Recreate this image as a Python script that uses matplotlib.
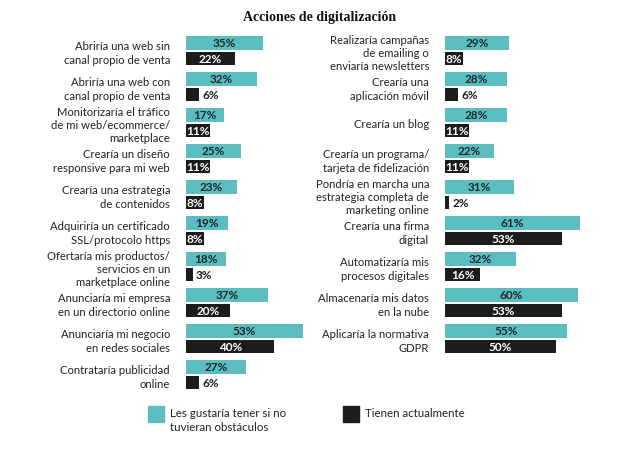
"""Acciones de digitalizacion - grouped horizontal bars"""

import numpy as np
import matplotlib
matplotlib.use("Agg")
import matplotlib.pyplot as plt
from matplotlib.patches import Rectangle

TEAL = "#5bbdbf"
BLACK = "#1c1c1c"

left_labels = [
    "Abriría una web sin\ncanal propio de venta",
    "Abriría una web con\ncanal propio de venta",
    "Monitorizaría el tráfico\nde mi web/ecommerce/\nmarketplace",
    "Crearía un diseño\nresponsive para mi web",
    "Crearía una estrategia\nde contenidos",
    "Adquiriría un certificado\nSSL/protocolo https",
    "Ofertaría mis productos/\nservicios en un\nmarketplace online",
    "Anunciaría mi empresa\nen un directorio online",
    "Anunciaría mi negocio\nen redes sociales",
    "Contrataría publicidad\nonline",
]
left_would = [35, 32, 17, 25, 23, 19, 18, 37, 53, 27]
left_have = [22, 6, 11, 11, 8, 8, 3, 20, 40, 6]

right_labels = [
    "Realizaría campañas\nde emailing o\nenviaría newsletters",
    "Crearía una\naplicación móvil",
    "Crearía un blog",
    "Crearía un programa/\ntarjeta de fidelización",
    "Pondría en marcha una\nestrategia completa de\nmarketing online",
    "Crearía una firma\ndigital",
    "Automatizaría mis\nprocesos digitales",
    "Almacenaría mis datos\nen la nube",
    "Aplicaría la normativa\nGDPR",
]
right_would = [29, 28, 28, 22, 31, 61, 32, 60, 55]
right_have = [8, 6, 11, 11, 2, 53, 16, 53, 50]

legend_labels = ["Les gustaría tener si no\ntuvieran obstáculos", "Tienen actualmente"]

FONT = "Lato"
W, H = 640, 452
PX_PER_PCT = 2.21
XMAX = 65


def draw_panel(fig, left_px, labels, would, have):
    ax = fig.add_axes([left_px / W, (H - 393.5) / H, PX_PER_PCT * XMAX / W, 360 / H])
    y = np.arange(len(labels))
    ax.barh(y - 0.21, would, height=0.39, color=TEAL)
    ax.barh(y + 0.22, have, height=0.36, color=BLACK)
    for i in range(len(labels)):
        ax.text(would[i] / 2, y[i] - 0.21, f"{would[i]}%", ha="center", va="center",
                fontsize=8.5, fontweight="bold", color="#1a2a2a", family=FONT)
        if have[i] >= 8:
            ax.text(have[i] / 2, y[i] + 0.22, f"{have[i]}%", ha="center", va="center",
                    fontsize=8.5, fontweight="bold", color="white", family=FONT)
        else:
            ax.text(have[i] + 1.5, y[i] + 0.22, f"{have[i]}%", ha="left", va="center",
                    fontsize=8.5, fontweight="bold", color=BLACK, family=FONT)
    ax.set_xlim(0, XMAX)
    ax.set_ylim(9.5, -0.5)
    ax.set_yticks(y)
    ax.set_yticklabels(labels, fontsize=8.1, family=FONT, color="#222222")
    for t in ax.get_yticklabels():
        t.set_linespacing(1.25)
    ax.tick_params(axis="y", length=0, pad=11.5)
    ax.tick_params(axis="x", bottom=False, labelbottom=False)
    for s in ax.spines.values():
        s.set_visible(False)
    ax.patch.set_alpha(0)
    return ax


fig = plt.figure(figsize=(6.4, 4.52), dpi=100)
draw_panel(fig, 186, left_labels, left_would, left_have)
draw_panel(fig, 445, right_labels, right_would, right_have)

fig.text(0.5, 1 - 18 / H, "Acciones de digitalización", ha="center", va="center",
         fontsize=10, fontweight="bold", family="Liberation Serif", color="#111111")

# legend
for x0, col, lab in [(148, TEAL, legend_labels[0]), (343, BLACK, legend_labels[1])]:
    fig.patches.append(Rectangle((x0 / W, 1 - 423 / H), 16 / W, 16 / H,
                                 transform=fig.transFigure, color=col))
    fig.text((x0 + 22) / W, 1 - 408 / H, lab, ha="left", va="top", fontsize=8.3,
             family=FONT, color="#222222", linespacing=1.3)

fig.savefig("out.png", dpi=100)
